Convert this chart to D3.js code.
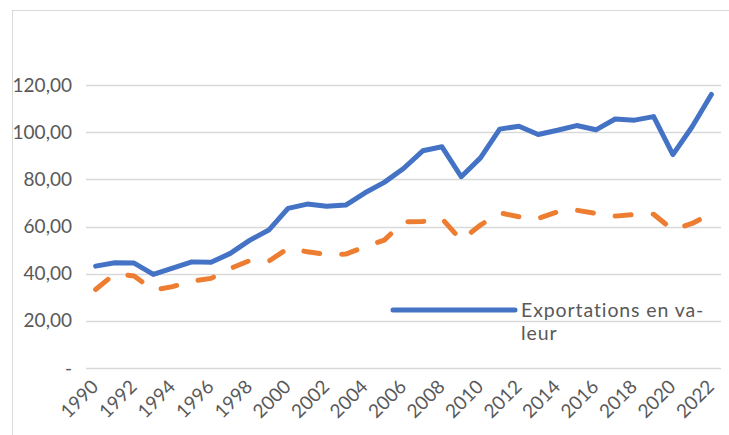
<!DOCTYPE html>
<html>
<head>
<meta charset="utf-8">
<script src="https://cdn.jsdelivr.net/npm/d3@7"></script>
<style>
  html, body { margin: 0; padding: 0; background: #fff; }
  svg { display: block; }
  text { font-family: Lato, "Open Sans", sans-serif; fill: #595959; }
</style>
</head>
<body>
<svg id="chart" width="729" height="435"></svg>
<script>
const years = d3.range(1990, 2023).map(String);
const exportsValue = [43.2, 44.6, 44.5, 39.7, 42.4, 45.0, 44.8, 48.6, 54.1, 58.5,
  67.7, 69.5, 68.6, 69.1, 74.3, 78.7, 84.6, 92.1, 93.8, 81.1,
  89.1, 101.3, 102.5, 99.0, 100.8, 102.8, 101.0, 105.6, 105.1, 106.6,
  90.5, 102.3, 116.0];
const secondSeries = [33.3, 40.0, 39.0, 33.0, 34.5, 36.9, 38.0, 42.2, 45.5, 45.3,
  50.7, 49.3, 48.2, 48.3, 51.4, 54.2, 62.0, 62.1, 63.3, 54.2,
  60.6, 65.8, 64.1, 63.4, 66.2, 66.9, 65.5, 64.4, 65.1, 65.2,
  58.5, 61.3, 65.5];
const yTicks = [0, 20, 40, 60, 80, 100, 120];
const yTickLabels = ["-", "20,00", "40,00", "60,00", "80,00", "100,00", "120,00"];
const xTickLabels = years.filter((d, i) => i % 2 === 0);
const legendLabel = ["Exportations en va-", "leur"];

const svg = d3.select("#chart");

// outer frame
svg.append("rect")
  .attr("x", 12.5).attr("y", 10.5)
  .attr("width", 760).attr("height", 480)
  .attr("fill", "none").attr("stroke", "#d9d9d9").attr("stroke-width", 1);

const x = d3.scaleBand().domain(years).range([86, 721]);
const y = d3.scaleLinear().domain([0, 120]).range([368, 85]);
const cx = d => x(d) + x.bandwidth() / 2;

// gridlines
svg.append("g").selectAll("line").data(yTicks).join("line")
  .attr("x1", 86).attr("x2", 721)
  .attr("y1", d => Math.round(y(d)) + 0.5).attr("y2", d => Math.round(y(d)) + 0.5)
  .attr("stroke", "#d9d9d9").attr("stroke-width", 1.5);

// y labels
const yAxis = d3.axisLeft(y).tickValues(yTicks)
  .tickFormat((d, i) => yTickLabels[i]).tickSize(0).tickPadding(0);
const gy = svg.append("g").attr("transform", "translate(72,0)").call(yAxis);
gy.select(".domain").remove();
gy.selectAll("text").style("font-size", "19px").style("fill", "#595959")
  .style("font-family", "Lato, sans-serif");

// x labels
const xAxis = d3.axisBottom(x).tickValues(xTickLabels).tickSize(0).tickPadding(0);
const gx = svg.append("g").call(xAxis);
gx.select(".domain").remove();
gx.selectAll(".tick").attr("transform", d => `translate(${cx(d) + 4},388)`);
gx.selectAll("text")
  .attr("y", 0).attr("dy", 0).attr("x", 0)
  .attr("transform", "rotate(-45)")
  .style("text-anchor", "end")
  .style("font-size", "19px").style("fill", "#595959")
  .style("font-family", "Lato, sans-serif");

const line = d3.line().x((d, i) => cx(years[i])).y(d => y(d));

svg.append("path").datum(secondSeries)
  .attr("d", line).attr("fill", "none")
  .attr("stroke", "#ED7D31").attr("stroke-width", 5)
  .attr("stroke-linecap", "round").attr("stroke-linejoin", "round")
  .attr("stroke-dasharray", "16,22");

svg.append("path").datum(exportsValue)
  .attr("d", line).attr("fill", "none")
  .attr("stroke", "#4472C4").attr("stroke-width", 5)
  .attr("stroke-linecap", "round").attr("stroke-linejoin", "round");

// legend
const lg = svg.append("g");
lg.append("line").attr("x1", 393).attr("x2", 515).attr("y1", 310).attr("y2", 310)
  .attr("stroke", "#4472C4").attr("stroke-width", 5).attr("stroke-linecap", "round");
lg.append("text").attr("x", 521).attr("y", 317)
  .style("font-size", "19.5px").style("letter-spacing", "0.9px")
  .selectAll("tspan").data(legendLabel).join("tspan")
  .attr("x", 521).attr("dy", (d, i) => i === 0 ? 0 : 23)
  .text(d => d);
</script>
</body>
</html>
